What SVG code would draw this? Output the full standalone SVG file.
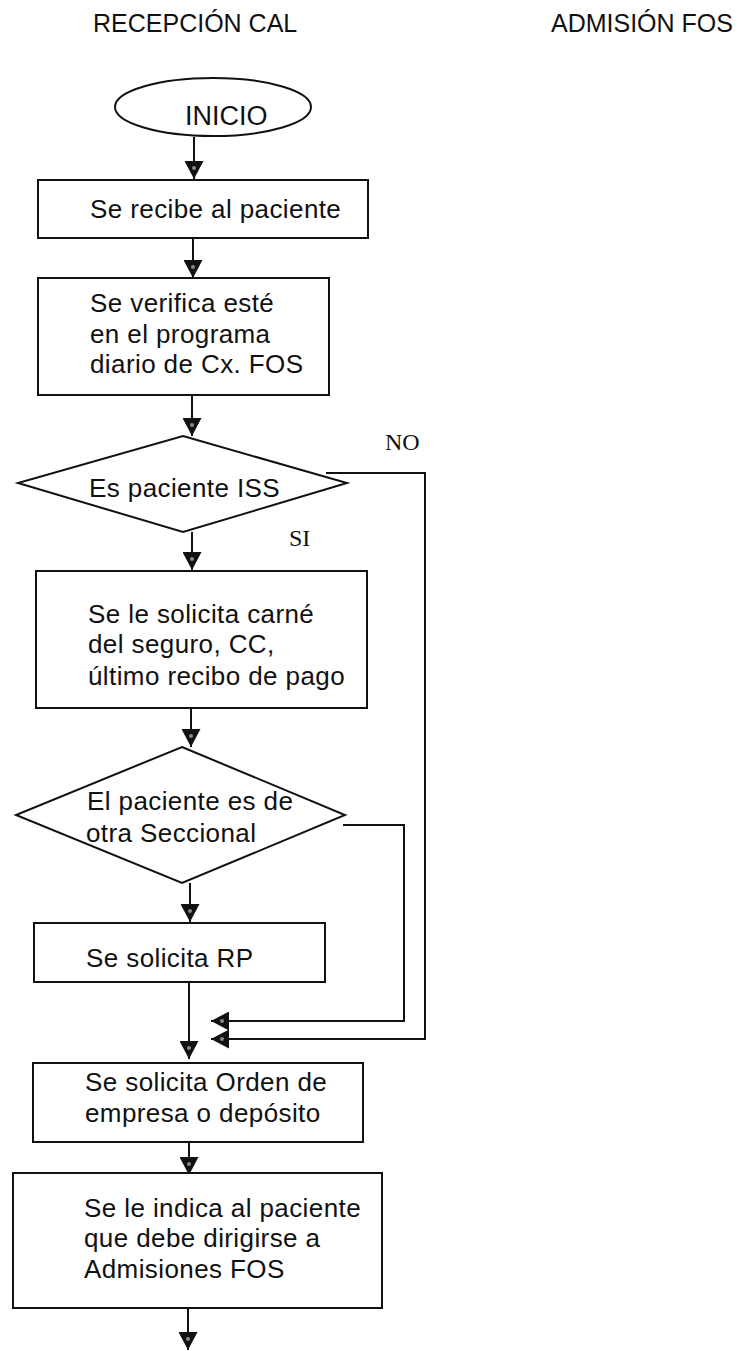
<svg xmlns="http://www.w3.org/2000/svg" width="739" height="1351" viewBox="0 0 739 1351">
<style>
.t{font-family:"Liberation Sans",Arial,sans-serif;font-size:26px;fill:#111;letter-spacing:0.4px}
.h{font-family:"Liberation Sans",Arial,sans-serif;font-size:25px;fill:#111}
.s{font-family:"Liberation Serif","Times New Roman",serif;font-size:24px;fill:#111}
.n{fill:#fff;stroke:#111;stroke-width:2}
.c{fill:none;stroke:#111;stroke-width:2}
</style>
<defs>
<marker id="ah" markerUnits="userSpaceOnUse" viewBox="0 0 18 19" refX="18" refY="9.5" markerWidth="18" markerHeight="19" orient="auto">
<path d="M0,0 L18,9.5 L0,19 Z" fill="#111"/>
<circle cx="7" cy="9.5" r="2" fill="#888"/>
</marker>
</defs>
<rect width="739" height="1351" fill="#fff"/>
<g id="titles">
<text class="h" x="93" y="32">RECEPCIÓN CAL</text>
<text class="h" x="551" y="32">ADMISIÓN FOS</text>
</g>
<g id="connectors">
<line class="c" x1="194" y1="137" x2="194" y2="179" marker-end="url(#ah)"/>
<line class="c" x1="193" y1="238" x2="193" y2="278" marker-end="url(#ah)"/>
<line class="c" x1="192" y1="395" x2="192" y2="436" marker-end="url(#ah)"/>
<line class="c" x1="192" y1="532" x2="192" y2="570" marker-end="url(#ah)"/>
<line class="c" x1="191" y1="708" x2="191" y2="747" marker-end="url(#ah)"/>
<line class="c" x1="190" y1="883" x2="190" y2="922" marker-end="url(#ah)"/>
<line class="c" x1="189" y1="982" x2="189" y2="1059" marker-end="url(#ah)"/>
<line class="c" x1="189" y1="1142" x2="189" y2="1175" marker-end="url(#ah)"/>
<line class="c" x1="188" y1="1308" x2="188" y2="1350" marker-end="url(#ah)"/>
<path class="c" d="M326,473 H425 V1039 H211" marker-end="url(#ah)"/>
<path class="c" d="M343,825 H404 V1021 H211" marker-end="url(#ah)"/>
<text class="s" x="385" y="450">NO</text>
<text class="s" x="289" y="546">SI</text>
</g>
<g id="inicio">
<ellipse class="n" cx="213" cy="107" rx="98" ry="29"/>
<text class="t" x="185" y="125" style="font-size:27px;letter-spacing:0">INICIO</text>
</g>
<g id="recibe">
<rect class="n" x="38" y="180" width="330" height="58"/>
<text class="t" x="90" y="218">Se recibe al paciente</text>
</g>
<g id="verifica">
<rect class="n" x="38" y="278" width="291" height="117"/>
<text class="t" x="90" y="312">Se verifica esté</text>
<text class="t" x="90" y="343">en el programa</text>
<text class="t" x="90" y="373">diario de Cx. FOS</text>
</g>
<g id="es-iss">
<polygon class="n" points="183,436 347,483 183,532 18,483"/>
<text class="t" x="89" y="497">Es paciente ISS</text>
</g>
<g id="carne">
<rect class="n" x="36" y="571" width="331" height="137"/>
<text class="t" x="88" y="623">Se le solicita carné</text>
<text class="t" x="88" y="653">del seguro, CC,</text>
<text class="t" x="88" y="685">último recibo de pago</text>
</g>
<g id="seccional">
<polygon class="n" points="182,747 345,815 182,883 16,815"/>
<text class="t" x="87" y="810">El paciente es de</text>
<text class="t" x="86" y="842">otra Seccional</text>
</g>
<g id="rp">
<rect class="n" x="34" y="923" width="291" height="59"/>
<text class="t" x="86" y="967">Se solicita RP</text>
</g>
<g id="orden">
<rect class="n" x="33" y="1063" width="330" height="79"/>
<text class="t" x="85" y="1091">Se solicita Orden de</text>
<text class="t" x="85" y="1122">empresa o depósito</text>
</g>
<g id="indica">
<rect class="n" x="13" y="1173" width="369" height="135"/>
<text class="t" x="84" y="1217">Se le indica al paciente</text>
<text class="t" x="84" y="1247">que debe dirigirse a</text>
<text class="t" x="84" y="1278">Admisiones FOS</text>
</g>
</svg>
